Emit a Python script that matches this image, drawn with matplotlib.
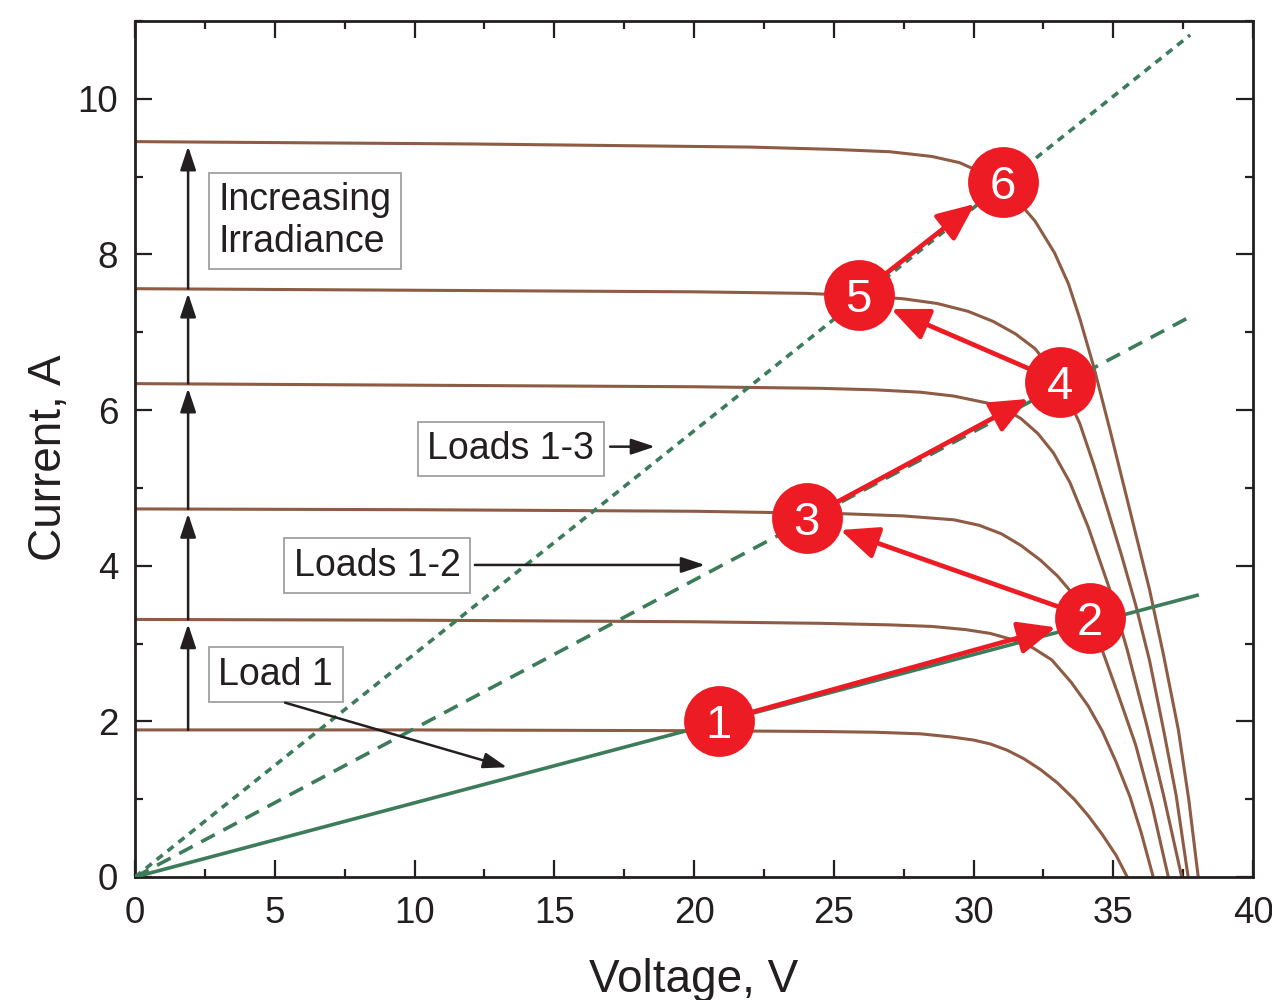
import matplotlib
matplotlib.use("Agg")
import matplotlib.pyplot as plt
from matplotlib.ticker import MultipleLocator

plt.rcParams['font.family'] = ['Liberation Sans', 'DejaVu Sans']
plt.rcParams['lines.scale_dashes'] = False

# ---------------- data ----------------
# I-V curves (voltage V, current A), increasing irradiance
curve_A_V = [0, 10, 20, 24.5, 26.5, 28.1, 29.2, 30.0, 30.6, 31.2, 31.8, 32.4, 33.0, 33.6, 34.1, 34.6, 35.1, 35.5]
curve_A_I = [1.89, 1.89, 1.88, 1.87, 1.86, 1.84, 1.80, 1.76, 1.71, 1.63, 1.52, 1.38, 1.21, 1.00, 0.79, 0.55, 0.28, 0.0]

curve_B_V = [0, 10, 20, 24.5, 27, 28.5, 29.7, 30.6, 31.4, 32.1, 32.8, 33.5, 34.1, 34.6, 35.1, 35.6, 36.0, 36.43]
curve_B_I = [3.31, 3.30, 3.28, 3.26, 3.24, 3.22, 3.18, 3.13, 3.05, 2.95, 2.79, 2.50, 2.20, 1.88, 1.48, 1.03, 0.57, 0.0]

curve_C_V = [0, 10, 20, 25.2, 27.5, 29.3, 30.2, 31.0, 31.7, 32.4, 33.0, 33.5, 34.1, 34.6, 35.2, 35.8, 36.4, 36.97]
curve_C_I = [4.73, 4.72, 4.70, 4.67, 4.64, 4.59, 4.52, 4.41, 4.26, 4.07, 3.87, 3.66, 3.32, 2.92, 2.32, 1.70, 0.90, 0.0]

curve_D_V = [0, 10, 20, 24.5, 26.5, 28.1, 29.3, 30.5, 31.2, 31.7, 32.3, 32.86, 33.45, 34.1, 34.88, 35.5, 36.2, 36.8, 37.45]
curve_D_I = [6.34, 6.32, 6.30, 6.28, 6.26, 6.23, 6.18, 6.09, 6.00, 5.89, 5.70, 5.45, 5.07, 4.50, 3.69, 2.92, 1.95, 1.05, 0.0]

curve_E_V = [0, 10, 20, 24, 26, 27.5, 28.7, 29.8, 30.7, 31.5, 32.2, 32.8, 33.3, 33.8, 34.3, 34.8, 35.3, 35.8, 36.3, 36.8, 37.25, 37.68]
curve_E_I = [7.56, 7.54, 7.52, 7.50, 7.47, 7.43, 7.37, 7.27, 7.14, 6.98, 6.79, 6.52, 6.22, 5.83, 5.30, 4.72, 4.13, 3.50, 2.78, 1.89, 1.05, 0.0]

curve_F_V = [0, 12, 22, 25, 27, 28.5, 29.5, 30.3, 31.0, 31.6, 32.2, 32.9, 33.4, 33.8, 34.3, 34.9, 35.5, 36.3, 36.8, 37.33, 37.7, 38.04]
curve_F_I = [9.45, 9.42, 9.38, 9.35, 9.32, 9.26, 9.18, 9.05, 8.88, 8.68, 8.43, 8.02, 7.62, 7.18, 6.56, 5.72, 4.85, 3.69, 2.85, 1.89, 1.00, 0.0]

# load lines (start and end points)
load1_V = [0, 38.0]
load1_I = [0, 3.62]
load12_V = [0, 37.75]
load12_I = [0, 7.20]
load13_V = [0, 37.75]
load13_I = [0, 10.82]

# operating points
op_V = [20.89, 34.17, 24.04, 33.09, 25.89, 31.05]
op_I = [2.00, 3.33, 4.61, 6.36, 7.48, 8.93]
op_labels = ['1', '2', '3', '4', '5', '6']

# irradiance steps (short-circuit currents) for the vertical arrows
isc_levels = [1.89, 3.31, 4.73, 6.34, 7.56, 9.45]
arrow_V = 1.9

x_ticks = [0, 5, 10, 15, 20, 25, 30, 35, 40]
y_ticks = [0, 2, 4, 6, 8, 10]

# ---------------- style ----------------
BROWN = '#8E5B45'
GREEN = '#3D7C5B'
RED = '#ED1C24'
TXT = '#231F20'
BOXEDGE = '#A0A0A0'

fig = plt.figure(figsize=(12.72, 10), dpi=100)
ax = fig.add_axes([135/1272, 123/1000, 1118/1272, 856/1000])

curves = [(curve_A_V, curve_A_I), (curve_B_V, curve_B_I), (curve_C_V, curve_C_I),
          (curve_D_V, curve_D_I), (curve_E_V, curve_E_I), (curve_F_V, curve_F_I)]
for cv, ci in curves:
    ax.plot(cv, ci, color=BROWN, lw=2.2, solid_joinstyle='round', zorder=2)

ax.plot(load1_V, load1_I, color=GREEN, lw=2.6, zorder=3)
ax.plot(load12_V, load12_I, color=GREEN, lw=2.6, dashes=(11, 7), zorder=3)
ax.plot(load13_V, load13_I, color=GREEN, lw=2.6, dashes=(5.5, 4.5), zorder=3)

# vertical black arrows (increasing irradiance)
for lo, hi in zip(isc_levels[:-1], isc_levels[1:]):
    ax.annotate('', xy=(arrow_V, hi - 0.06), xytext=(arrow_V, lo),
                arrowprops=dict(arrowstyle='-|>,head_length=0.9,head_width=0.3',
                                mutation_scale=16, lw=1.8, color=TXT,
                                shrinkA=0, shrinkB=0), zorder=4)

# red arrows between operating points
r_pt = 25.5
for i in range(len(op_V) - 1):
    ax.annotate('', xy=(op_V[i+1], op_I[i+1]), xytext=(op_V[i], op_I[i]),
                arrowprops=dict(arrowstyle='-|>,head_length=1.15,head_width=0.5',
                                mutation_scale=20, lw=3.4, color=RED,
                                shrinkA=r_pt, shrinkB=r_pt), zorder=5)

ax.plot(op_V, op_I, 'o', ms=51, color=RED, mec='none', zorder=6, linestyle='none')
for v, i, lab in zip(op_V, op_I, op_labels):
    ax.text(v, i, lab, color='white', fontsize=34, ha='center', va='center_baseline', zorder=7)

# annotation boxes
box = dict(boxstyle='square,pad=0.25', fc='white', ec=BOXEDGE, lw=1.3)
ax.text(6.08, 8.43, 'Increasing\nIrradiance', fontsize=27, color=TXT, ha='center', va='center',
        multialignment='left', linespacing=1.18, bbox=box, zorder=4)
ax.text(13.45, 5.50, 'Loads 1-3', fontsize=27, color=TXT, ha='center', va='center', bbox=box, zorder=4)
ax.text(8.66, 4.00, 'Loads 1-2', fontsize=27, color=TXT, ha='center', va='center', bbox=box, zorder=4)
ax.text(5.04, 2.60, 'Load 1', fontsize=27, color=TXT, ha='center', va='center', bbox=box, zorder=4)

black_arrow = dict(arrowstyle='-|>,head_length=0.9,head_width=0.3', mutation_scale=16,
                   lw=1.8, color=TXT, shrinkA=0, shrinkB=0)
ax.annotate('', xy=(18.6, 5.53), xytext=(17.0, 5.53), arrowprops=black_arrow, zorder=4)
ax.annotate('', xy=(20.39, 4.01), xytext=(12.16, 4.01), arrowprops=black_arrow, zorder=4)
ax.annotate('', xy=(13.31, 1.41), xytext=(5.37, 2.24), arrowprops=black_arrow, zorder=4)

# axes formatting
ax.set_xlim(0, 40)
ax.set_ylim(0, 11)
ax.set_xticks(x_ticks)
ax.set_yticks(y_ticks)
ax.xaxis.set_minor_locator(MultipleLocator(2.5))
ax.yaxis.set_minor_locator(MultipleLocator(1))
ax.tick_params(which='both', direction='in', top=True, right=True, width=1.6, color=TXT,
               labelcolor=TXT, labelsize=26.5)
ax.tick_params(which='major', length=12)
ax.tick_params(axis='x', which='major', pad=14)
ax.tick_params(axis='y', which='major', pad=12)
ax.tick_params(which='minor', length=6)
for s in ax.spines.values():
    s.set_linewidth(2.0)
    s.set_color(TXT)

ax.set_xlabel('Voltage, V', fontsize=33, color=TXT)
ax.set_ylabel('Current, A', fontsize=33, color=TXT)
ax.xaxis.set_label_coords(0.5, -0.095)
ax.yaxis.set_label_coords(-0.057, 0.49)

fig.savefig('out.png', dpi=100)
